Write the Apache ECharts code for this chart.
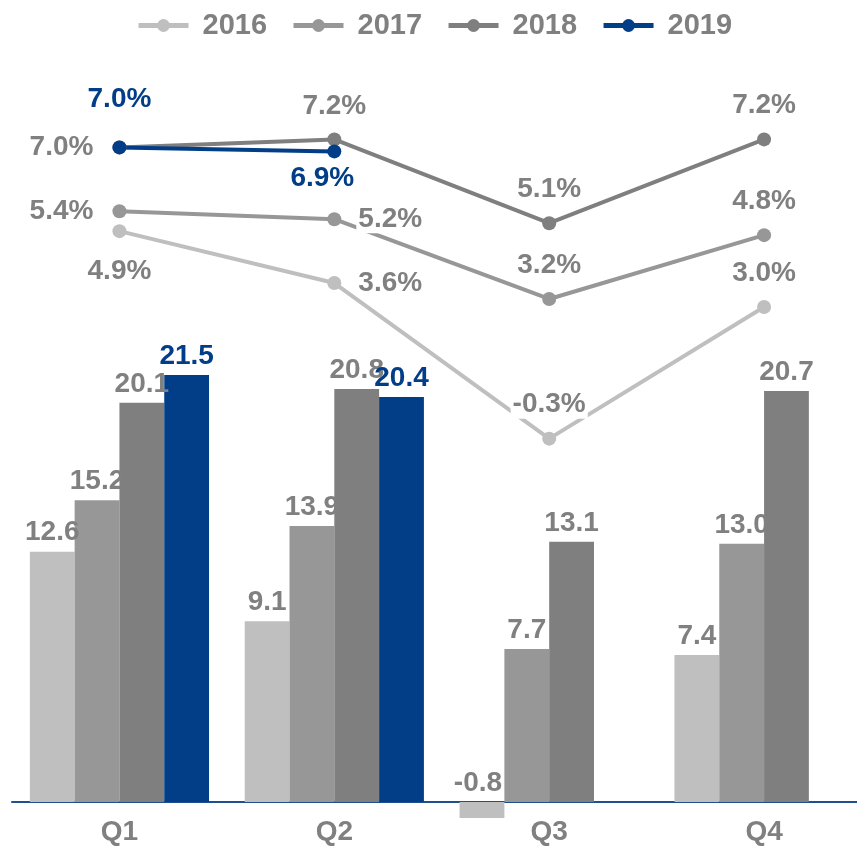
<!DOCTYPE html>
<html>
<head>
<meta charset="utf-8">
<script src="https://cdn.jsdelivr.net/npm/echarts@6/dist/echarts.min.js"></script>
<style>
    html, body { margin: 0; padding: 0; background: #fff; }
    #chart { width: 857px; height: 848px; }
</style>
</head>
<body>
<div id="chart"></div>
<script>
const quarters = ['Q1', 'Q2', 'Q3', 'Q4']
const years = ['2016', '2017', '2018', '2019']

// bar values
const sales2016 = [12.6, 9.1, -0.8, 7.4]
const sales2017 = [15.2, 13.9, 7.7, 13.0]
const sales2018 = [20.1, 20.8, 13.1, 20.7]
const sales2019 = [21.5, 20.4, null, null]

// growth rates (%)
const growth2016 = [4.9, 3.6, -0.3, 3.0]
const growth2017 = [5.4, 5.2, 3.2, 4.8]
const growth2018 = [7.0, 7.2, 5.1, 7.2]
const growth2019 = [7.0, 6.9, null, null]

const colors = ['#bfbfbf', '#979797', '#7f7f7f', '#023e87']
const textGray = '#808080'
const font = 'Liberation Sans, Arial, sans-serif'

// where each growth label sits: [position, distance, offset]
const labelPlace = [
    [['bottom', 19], ['right', 15], ['top', 13], ['top', 13]],
    [['left', 17], ['right', 15], ['top', 13], ['top', 13]],
    [['left', 17], ['top', 12], ['top', 13], ['top', 13]],
    [['top', 27], ['bottom', 6, [-12, 0]], ['top', 13], ['top', 13]]
]

const salesAll = [sales2016, sales2017, sales2018, sales2019]
const growthAll = [growth2016, growth2017, growth2018, growth2019]

const myCharts = echarts.init(document.getElementById('chart'))

let lineSeries = growthAll.map((vals, s) => ({
    name: years[s],
    type: 'line',
    yAxisIndex: 1,
    z: 4,
    symbol: 'circle',
    symbolSize: 14,
    lineStyle: { width: 4, color: colors[s] },
    itemStyle: { color: colors[s] },
    data: vals.map((v, i) => ({
        value: v,
        label: {
            position: labelPlace[s][i][0],
            distance: labelPlace[s][i][1],
            offset: labelPlace[s][i][2] || [0, 0]
        }
    })),
    label: {
        show: true,
        formatter: p => p.value.toFixed(1) + '%',
        color: s === 3 ? colors[3] : textGray,
        fontSize: 28,
        fontWeight: 'bold',
        fontFamily: font,
        backgroundColor: '#fff',
        padding: [0, 2]
    }
}))

let barSeries = salesAll.map((vals, s) => ({
    name: years[s],
    type: 'bar',
    barWidth: 44.8,
    barGap: 0,
    clip: false,
    itemStyle: { color: colors[s] },
    data: vals.map(v => (v !== null && v < 0)
        ? { value: v, label: { position: 'top', offset: [-4, 0] } }
        : v),
    label: {
        show: true,
        position: 'top',
        distance: 5,
        formatter: p => p.value.toFixed(1),
        color: s === 3 ? colors[3] : textGray,
        fontSize: 28,
        fontWeight: 'bold',
        fontFamily: font
    }
}))

let option = {
    animation: false,
    backgroundColor: '#fff',
    legend: {
        data: years,
        top: 6,
        left: 131,
        itemWidth: 50,
        itemHeight: 16,
        itemGap: 24,
        lineStyle: { width: 5 },
        textStyle: {
            color: textGray,
            fontSize: 29,
            fontWeight: 'bold',
            fontFamily: font,
            padding: [0, 0, 0, 9]
        }
    },
    grid: {
        left: 12,
        right: -14.5,
        top: 126.8,
        bottom: 46,
        containLabel: false,
        outerBoundsMode: 'none'
    },
    xAxis: {
        type: 'category',
        data: quarters,
        axisLine: { lineStyle: { color: '#1f4f91', width: 2 } },
        axisTick: { show: false },
        axisLabel: {
            color: textGray,
            fontSize: 28,
            fontWeight: 'bold',
            fontFamily: font,
            margin: 16
        }
    },
    yAxis: [
        { type: 'value', min: 0, max: 34, show: false, splitLine: { show: false } },
        { type: 'value', min: -9.408, max: 7.516, show: false, splitLine: { show: false } }
    ],
    series: lineSeries.concat(barSeries)
}
myCharts.setOption(option)
window.onresize = myCharts.resize
</script>
</body>
</html>
